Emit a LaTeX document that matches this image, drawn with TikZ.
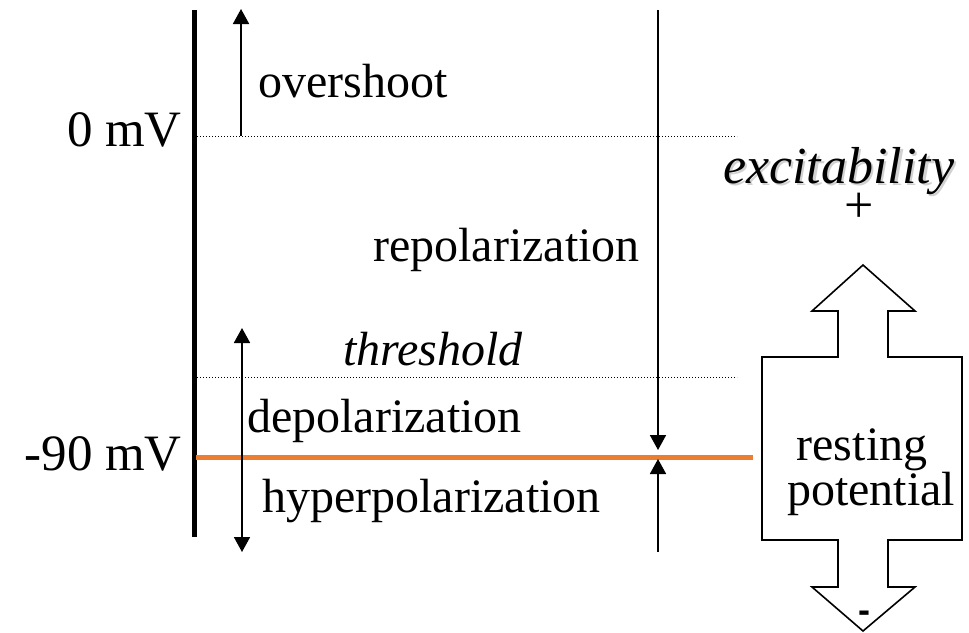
\documentclass[tikz,border=0pt]{standalone}
\usepackage{fontspec}
\setmainfont{Liberation Serif}[ItalicFont={Liberation Serif Italic},BoldFont={Liberation Serif Bold}]
\newfontfamily\signfont{Liberation Sans}
\usetikzlibrary{arrows.meta}
\definecolor{restorange}{HTML}{ED7D31}
\begin{document}
\begin{tikzpicture}[x=1pt,y=-1pt,
  lbl/.style={inner sep=0pt,anchor=base west,font=\fontsize{48}{56}\selectfont},
  mvlbl/.style={inner sep=0pt,anchor=base east,font=\fontsize{51}{60}\selectfont},
  arr/.style={line width=1.8pt,-{Triangle[length=15pt,width=16pt]}},
  darr/.style={line width=1.8pt,{Triangle[length=15pt,width=16pt]}-{Triangle[length=15pt,width=16pt]}},
  level/.style={line width=1pt,dotted},
  axisline/.style={line width=5pt}]
\useasboundingbox (0,0) rectangle (969,632);

% voltage axis
\coordinate (axtop) at (194,10);
\coordinate (axbot) at (194,537);
\draw[axisline] (axtop) -- (axbot);

% levels
\coordinate (zeroL) at (197,136);
\coordinate (zeroR) at (737,136);
\draw[level] (zeroL) -- (zeroR);
\coordinate (thrL) at (197,377);
\coordinate (thrR) at (737,377);
\draw[level] (thrL) -- (thrR);
\coordinate (restL) at (196,457);
\coordinate (restR) at (753,457);
\draw[line width=5pt,restorange] (restL) -- (restR);

% labels on the axis
\node[mvlbl] (zmv) at (182,146) {0 mV};
\node[mvlbl] (nmv) at (182,470) {-90 mV};

% overshoot arrow
\coordinate (ovB) at (241,136);
\coordinate (ovT) at (241,9);
\draw[arr] (ovB) -- (ovT);
\node[lbl] (ov) at (258,97) {overshoot};

% depolarization / hyperpolarization double arrow
\coordinate (dpT) at (242,328);
\coordinate (dpB) at (242,552);
\draw[darr] (dpB) -- (dpT);
\node[lbl] (thr) at (343,365) {\itshape threshold};
\node[lbl] (dep) at (247,432) {depolarization};
\node[lbl] (hyp) at (262,512) {hyperpolarization};

% repolarization arrows
\coordinate (rpT) at (658,10);
\coordinate (rpM) at (658,450);
\draw[arr] (rpT) -- (rpM);
\coordinate (rpB) at (658,552);
\coordinate (rpN) at (658,459);
\draw[arr] (rpB) -- (rpN);
\node[lbl] (rep) at (373,261) {repolarization};

% excitability, with a soft drop shadow
\node[lbl,text=black!18,font=\fontsize{52}{60}\selectfont] (excs) at (725.5,185.5) {\itshape excitability};
\node[lbl,font=\fontsize{52}{60}\selectfont] (exc) at (723,183) {\itshape excitability};
\node[inner sep=0pt,font=\fontsize{52}{56}\selectfont] (plus) at (859,208) {+};

% resting potential double arrow box
\draw[line width=1.6pt,line join=miter]
  (863,265) -- (915,311) -- (888,311) -- (888,357) -- (962,357) -- (962,540)
  -- (888,540) -- (888,587) -- (915,587) -- (863,631) -- (812,587) -- (838,587)
  -- (838,540) -- (762,540) -- (762,357) -- (838,357) -- (838,311) -- (812,311) -- cycle;
\node[inner sep=0pt,anchor=base,font=\fontsize{48}{56}\selectfont] (rest1) at (862,460) {resting};
\node[inner sep=0pt,anchor=base,font=\fontsize{48}{56}\selectfont] (rest2) at (871,505) {potential};
\node[inner sep=0pt,font=\signfont\bfseries\fontsize{36}{40}\selectfont] (minus) at (864,617) {-};
\end{tikzpicture}
\end{document}
